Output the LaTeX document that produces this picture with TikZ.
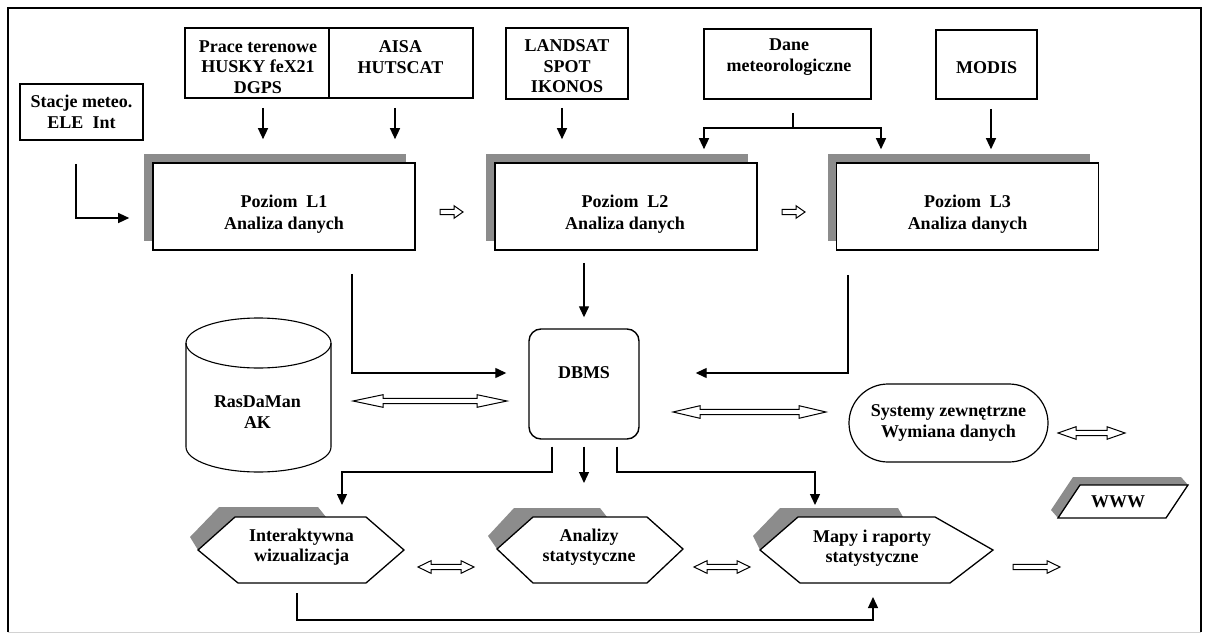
\documentclass[tikz,border=0pt]{standalone}
\usepackage{fontspec}
\setmainfont{Liberation Serif}
\usetikzlibrary{arrows.meta,shapes.misc,shadows}
\definecolor{shadowgray}{gray}{0.55}
\tikzset{
  every node/.style={inner sep=0pt},
  txt/.style={font=\fontsize{18}{20.5}\selectfont\bfseries, align=center},
  box/.style={draw, line width=1.6pt, fill=white, rectangle},
  level/.style={box, minimum width=262pt, minimum height=87pt,
    copy shadow={shadow xshift=-9pt, shadow yshift=9pt, fill=shadowgray, draw=none}},
  shapeline/.style={draw, line width=1.3pt},
  frame/.style={line width=1.6pt},
  conn/.style={line width=1.3pt},
  arr/.style={conn, -{Triangle[length=11pt,width=10pt]}},
  hollow/.style={draw, line width=1pt, fill=white, line join=miter},
}
% single hollow arrow: x1, x2 (tip), y, head length
\newcommand\harrowS[4]{%
  \draw[hollow] (#1,#3-2.7) -- (#2-#4,#3-2.7) -- (#2-#4,#3-6.3) -- (#2,#3)
    -- (#2-#4,#3+6.3) -- (#2-#4,#3+2.7) -- (#1,#3+2.7) -- cycle;}
% double hollow arrow: x1 (tip), x2 (tip), y, head length
\newcommand\harrowD[4]{%
  \draw[hollow] (#1,#3) -- (#1+#4,#3-6.3) -- (#1+#4,#3-2.7) -- (#2-#4,#3-2.7)
    -- (#2-#4,#3-6.3) -- (#2,#3) -- (#2-#4,#3+6.3) -- (#2-#4,#3+2.7)
    -- (#1+#4,#3+2.7) -- (#1+#4,#3+6.3) -- cycle;}
\begin{document}
\begin{tikzpicture}[x=1pt,y=-1pt]
\useasboundingbox (0,0) rectangle (1207,634);
% outer frame
\draw[frame] (8,632) -- (8,8) -- (1201,8) -- (1201,632);
\draw[gray!35, line width=1pt] (8,632) -- (1201,632);

% ---------- top source boxes ----------
\node[box, minimum width=123pt, minimum height=56pt] (stacje) at (81.5,112) {};
\node[txt] (stacje-t) at (81.5,112) {Stacje meteo.\\ELE\enspace Int};

\node[box, minimum width=144pt, minimum height=70pt] (prace) at (257,63) {};
\node[txt] (prace-t) at (258,67) {Prace terenowe\\HUSKY feX21\\DGPS};

\node[box, minimum width=144pt, minimum height=70pt] (aisa) at (401,63) {};
\node[txt] (aisa-t) at (400.5,57) {AISA\\HUTSCAT};

\node[box, minimum width=122pt, minimum height=71pt] (landsat) at (567,63.5) {};
\node[txt] (landsat-t) at (567,66.5) {LANDSAT\\SPOT\\IKONOS};

\node[box, minimum width=167pt, minimum height=70pt] (dane) at (787.5,64) {};
\node[txt] (dane-t) at (789,57) {Dane\\meteorologiczne};

\node[box, minimum width=101pt, minimum height=69pt] (modis) at (986.5,64.5) {};
\node[txt] (modis-t) at (986.5,67.5) {MODIS};

% ---------- processing levels ----------
\node[level] (L1) at (284,206.5) {};
\node[txt] (L1-t) at (284,214) {Poziom\enspace L1\\[1.5pt]Analiza danych};
\node[level] (L2) at (626,206.5) {};
\node[txt] (L2-t) at (625,214) {Poziom\enspace L2\\[1.5pt]Analiza danych};
\node[level] (L3) at (967.5,206.5) {};
\node[txt] (L3-t) at (967.5,214) {Poziom\enspace L3\\[1.5pt]Analiza danych};

% ---------- DBMS ----------
\node[draw, line width=1.4pt, rounded corners=12pt, minimum width=110pt, minimum height=110pt] (dbms) at (584,384) {};
\node[txt] (dbms-t) at (584,373) {DBMS};

% ---------- RasDaMan cylinder ----------
\draw[line width=1.1pt, fill=white] (186,343) -- (186,447)
  arc[start angle=180, end angle=360, x radius=72.5pt, y radius=25pt] -- (331,343);
\draw[line width=1.1pt] (258.5,343) ellipse[x radius=72.5pt, y radius=25pt];
\node[txt] (ras-t) at (257.5,412) {RasDaMan\\AK};

% ---------- external systems ----------
\node[rounded rectangle, draw, line width=1.2pt, minimum width=199pt, minimum height=78pt, txt] (sys) at (948.5,423) {Systemy zewnętrzne\\Wymiana danych};

% ---------- hexagons ----------
\fill[shadowgray] (190,537) -- (219,507) -- (318,507) -- (326,517) -- (236,517) -- (198,550) -- cycle;
\draw[shapeline, fill=white] (198,550) -- (235,517) -- (366,517) -- (404,550) -- (366,583) -- (238,583) -- cycle;
\node[txt] (inter-t) at (301.5,547) {Interaktywna\\wizualizacja};

\fill[shadowgray] (488,536) -- (514,508) -- (600,508) -- (607,517) -- (533,517) -- (497,549) -- cycle;
\draw[shapeline, fill=white] (497,549) -- (533,517) -- (647,517) -- (683,549) -- (647,583) -- (533,583) -- cycle;
\node[txt] (ana-t) at (589,547) {Analizy\\statystyczne};

\fill[shadowgray] (753,536) -- (780,508) -- (898,508) -- (903,517) -- (798,517) -- (760,550) -- cycle;
\draw[shapeline, fill=white] (760,550) -- (798,517) -- (935,517) -- (993,550) -- (950,583) -- (800,583) -- cycle;
\node[txt] (map-t) at (872,548) {Mapy i raporty\\statystyczne};

% ---------- WWW ----------
\fill[shadowgray] (1051,510) -- (1073,477) -- (1181,477) -- (1188,485) -- (1080,485) -- (1058,518) -- cycle;
\draw[shapeline, fill=white] (1058,518) -- (1080,485) -- (1188,485) -- (1166,518) -- cycle;
\node[txt] (www-t) at (1118,502) {WWW};

\coordinate (interN) at (342,517);
\coordinate (anaN) at (584,517);
\coordinate (mapN) at (815,517);
\coordinate (interS) at (297,583);
\coordinate (mapS) at (873,583);
\coordinate (dj) at (793,128);

% ---------- connectors: sources to levels ----------
\draw[arr, shorten <=23pt, shorten >=23pt] (stacje.south -| 76,0) |- (L1.west |- 0,218);
\draw[arr, shorten <=9pt, shorten >=23pt] (263,0 |- prace.south) -- (263,0 |- L1.north);
\draw[arr, shorten <=9pt, shorten >=23pt] (395,0 |- aisa.south) -- (395,0 |- L1.north);
\draw[arr, shorten <=8pt, shorten >=23pt] (562,0 |- landsat.south) -- (562,0 |- L2.north);
\draw[conn, shorten <=13pt] (793,0 |- dane.south) -- (dj);
\draw[arr, shorten >=13pt] (dj) -| (704,0 |- L2.north);
\draw[arr, shorten >=13pt] (dj) -| (881,0 |- L3.north);
\draw[arr, shorten <=9pt, shorten >=13pt] (991,0 |- modis.south) -- (991,0 |- L3.north);

% ---------- levels to DBMS ----------
\draw[arr, shorten <=23pt, shorten >=22pt] (352,0 |- L1.south) |- (dbms.west |- 0,373);
\draw[arr, shorten <=12pt, shorten >=11pt] (584,0 |- L2.south) -- (dbms.north);
\draw[arr, shorten <=24pt, shorten >=56pt] (848,0 |- L3.south) |- (dbms.east |- 0,373);

% ---------- DBMS to outputs ----------
\draw[arr, shorten <=7pt, shorten >=12pt] (552,0 |- dbms.south) |- (342,472) -- (interN);
\draw[arr, shorten <=7pt, shorten >=34pt] (dbms.south) -- (anaN);
\draw[arr, shorten <=7pt, shorten >=12pt] (617,0 |- dbms.south) |- (815,472) -- (mapN);
\draw[arr, shorten <=10pt, shorten >=14pt] (interS) |- (873,620) -- (mapS);

% ---------- hollow arrows ----------
\harrowS{440}{463}{212}{9}
\harrowS{782}{805}{212}{9}
\harrowD{353}{507}{401}{30}
\harrowD{673}{826}{412}{27}
\harrowD{1058}{1125}{433}{18}
\harrowD{418}{474}{567}{13}
\harrowD{694}{750}{567}{13}
\harrowS{1013}{1060}{567}{13}
\end{tikzpicture}
\end{document}
